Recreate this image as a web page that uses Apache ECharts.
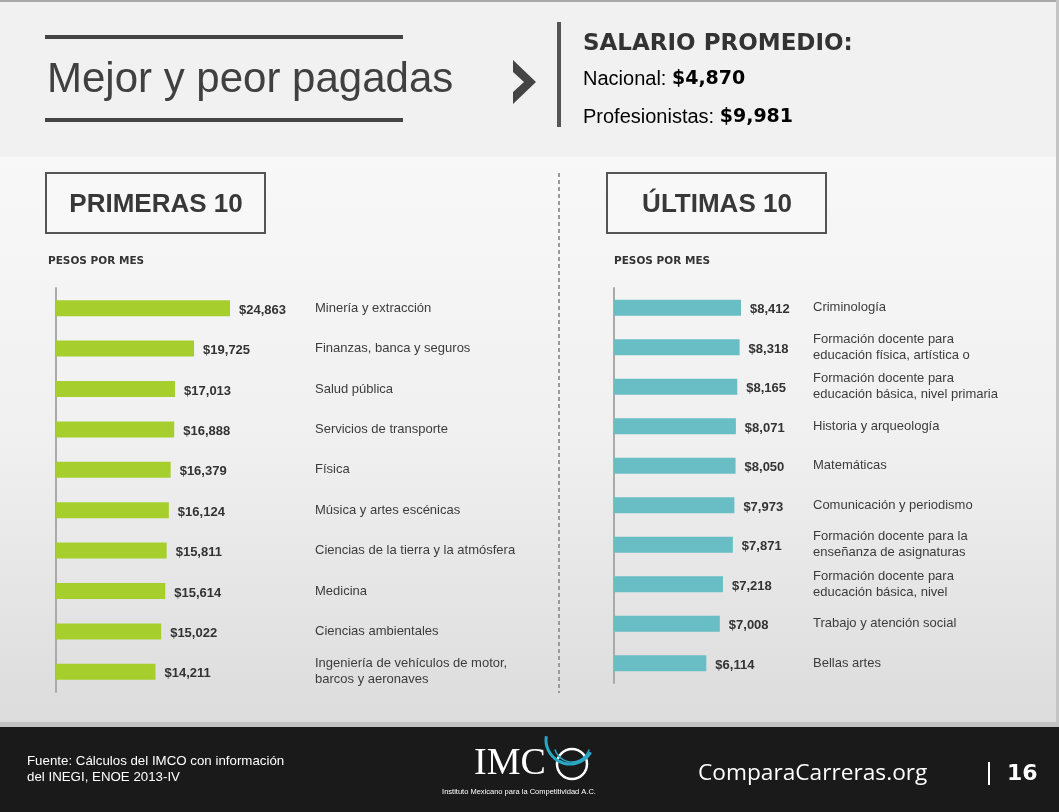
<!DOCTYPE html>
<html>
<head>
<meta charset="utf-8">
<script src="https://cdn.jsdelivr.net/npm/echarts@6/dist/echarts.min.js"></script>
<style>
html,body{margin:0;padding:0;background:#1a1a1a;}
#chart{width:1059px;height:812px;}
</style>
</head>
<body>
<div id="chart"></div>
<script>
const topCategories = [
  'Minería y extracción',
  'Finanzas, banca y seguros',
  'Salud pública',
  'Servicios de transporte',
  'Física',
  'Música y artes escénicas',
  'Ciencias de la tierra y la atmósfera',
  'Medicina',
  'Ciencias ambientales',
  'Ingeniería de vehículos de motor,\nbarcos y aeronaves'
];
const topValues = [24863, 19725, 17013, 16888, 16379, 16124, 15811, 15614, 15022, 14211];

const bottomCategories = [
  'Criminología',
  'Formación docente para\neducación física, artística o',
  'Formación docente para\neducación básica, nivel primaria',
  'Historia y arqueología',
  'Matemáticas',
  'Comunicación y periodismo',
  'Formación docente para la\nenseñanza de asignaturas',
  'Formación docente para\neducación básica, nivel',
  'Trabajo y atención social',
  'Bellas artes'
];
const bottomValues = [8412, 8318, 8165, 8071, 8050, 7973, 7871, 7218, 7008, 6114];

const titleText = 'Mejor y peor pagadas';
const salaryTitle = 'SALARIO PROMEDIO:';
const nationalLabel = 'Nacional: ';
const nationalValue = '$4,870';
const profLabel = 'Profesionistas: ';
const profValue = '$9,981';
const leftHeader = 'PRIMERAS 10';
const rightHeader = 'ÚLTIMAS 10';
const unitText = 'PESOS POR MES';
const sourceText = 'Fuente: Cálculos del IMCO con información\ndel INEGI, ENOE 2013-IV';
const siteText = 'ComparaCarreras.org';
const pageText = '16';

const fmt = v => '$' + v.toLocaleString('en-US');
const sans = 'Liberation Sans, Arial, sans-serif';
const heavy = 'DejaVu Sans, sans-serif';

const chart = echarts.init(document.getElementById('chart'), null, {renderer: 'canvas'});

const axisLabelBase = {
  inside: true,
  color: '#3c3c3c',
  fontSize: 13,
  fontFamily: sans,
  lineHeight: 16,
  align: 'left',
  padding: [4, 0, 0, 0]
};

const option = {
  backgroundColor: '#1a1a1a',
  animation: false,
  grid: [
    {left: 56, top: 288, width: 245, height: 404},
    {left: 614, top: 288, width: 151, height: 395}
  ],
  xAxis: [
    {gridIndex: 0, type: 'value', min: 0, max: 35000, show: false},
    {gridIndex: 1, type: 'value', min: 0, max: 10000, show: false}
  ],
  yAxis: [
    {
      gridIndex: 0, type: 'category', inverse: true, data: topCategories,
      axisLine: {show: true, lineStyle: {color: '#aaaaaa', width: 2}},
      axisTick: {show: false}, splitLine: {show: false},
      axisLabel: Object.assign({}, axisLabelBase, {margin: 259})
    },
    {
      gridIndex: 1, type: 'category', inverse: true, data: bottomCategories,
      axisLine: {show: true, lineStyle: {color: '#aaaaaa', width: 2}},
      axisTick: {show: false}, splitLine: {show: false},
      axisLabel: Object.assign({}, axisLabelBase, {margin: 199})
    }
  ],
  series: [
    {
      type: 'bar', xAxisIndex: 0, yAxisIndex: 0, data: topValues,
      barWidth: 16,
      itemStyle: {color: '#a6cf2e'},
      label: {show: true, position: 'right', distance: 9, offset: [0, 2], formatter: p => fmt(p.value),
        color: '#333333', fontWeight: 'bold', fontSize: 13, fontFamily: sans}
    },
    {
      type: 'bar', xAxisIndex: 1, yAxisIndex: 1, data: bottomValues,
      barWidth: 16,
      itemStyle: {color: '#68bec4'},
      label: {show: true, position: 'right', distance: 9, offset: [0, 2], formatter: p => fmt(p.value),
        color: '#333333', fontWeight: 'bold', fontSize: 13, fontFamily: sans}
    }
  ],
  graphic: {
    elements: [
      // backgrounds
      {type: 'rect', z: -100, shape: {x: 0, y: 0, width: 1059, height: 157}, style: {fill: '#f1f1f1'}},
      {type: 'rect', z: -100, shape: {x: 0, y: 157, width: 1059, height: 565},
        style: {fill: new echarts.graphic.LinearGradient(0, 0, 0, 1, [
          {offset: 0, color: '#f8f8f8'}, {offset: 0.5, color: '#f0f0f0'}, {offset: 1, color: '#dcdcdc'}])}},
      {type: 'rect', z: -100, shape: {x: 0, y: 722, width: 1059, height: 5}, style: {fill: '#c2c2c2'}},
      {type: 'rect', z: -100, shape: {x: 0, y: 727, width: 1059, height: 85}, style: {fill: '#1a1a1a'}},
      {type: 'rect', z: -99, shape: {x: 0, y: 0, width: 1059, height: 2}, style: {fill: '#a9a9a9'}},
      {type: 'rect', z: -99, shape: {x: 1056, y: 0, width: 3, height: 722}, style: {fill: '#c4c4c4'}},

      // title block
      {type: 'rect', shape: {x: 45, y: 35, width: 358, height: 4}, style: {fill: '#444444'}},
      {type: 'rect', shape: {x: 45, y: 118, width: 358, height: 4}, style: {fill: '#444444'}},
      {type: 'text', x: 47, y: 80, style: {text: titleText, fill: '#404040', font: '42px ' + sans, verticalAlign: 'middle'}},
      {type: 'polygon', shape: {points: [[513, 60], [536, 82], [513, 104], [513, 92], [524, 82], [513, 72]]}, style: {fill: '#444444'}},
      {type: 'rect', shape: {x: 557, y: 22, width: 4, height: 105}, style: {fill: '#555555'}},
      {type: 'text', x: 583, y: 44, style: {text: salaryTitle, fill: '#333333', font: 'bold 23px ' + heavy, verticalAlign: 'middle'}},
      {type: 'text', x: 583, y: 79, style: {
        text: '{a|' + nationalLabel + '}{b|' + nationalValue + '}', verticalAlign: 'middle',
        rich: {a: {fontFamily: sans, fontSize: 20, color: '#333333'},
               b: {fontFamily: heavy, fontSize: 19, fontWeight: 'bold', color: '#333333'}}}},
      {type: 'text', x: 583, y: 117, style: {
        text: '{a|' + profLabel + '}{b|' + profValue + '}', verticalAlign: 'middle',
        rich: {a: {fontFamily: sans, fontSize: 20, color: '#333333'},
               b: {fontFamily: heavy, fontSize: 19, fontWeight: 'bold', color: '#333333'}}}},

      // section headers
      {type: 'rect', shape: {x: 46, y: 173, width: 219, height: 60}, style: {fill: '#f8f8f8', stroke: '#555555', lineWidth: 2}},
      {type: 'text', x: 156, y: 205, style: {text: leftHeader, fill: '#383838', font: 'bold 26px ' + sans, align: 'center', verticalAlign: 'middle'}},
      {type: 'rect', shape: {x: 607, y: 173, width: 219, height: 60}, style: {fill: '#f8f8f8', stroke: '#555555', lineWidth: 2}},
      {type: 'text', x: 717, y: 205, style: {text: rightHeader, fill: '#383838', font: 'bold 26px ' + sans, align: 'center', verticalAlign: 'middle'}},
      {type: 'text', x: 48, y: 261, style: {text: unitText, fill: '#333333', font: 'bold 10.5px ' + heavy, verticalAlign: 'middle'}},
      {type: 'text', x: 614, y: 261, style: {text: unitText, fill: '#333333', font: 'bold 10.5px ' + heavy, verticalAlign: 'middle'}},

      // dashed divider
      {type: 'line', shape: {x1: 559, y1: 173, x2: 559, y2: 693}, style: {stroke: '#9a9a9a', lineWidth: 2, lineDash: [4, 3]}},

      // footer
      {type: 'text', x: 27, y: 769, style: {text: sourceText, fill: '#ffffff', font: '13.3px ' + sans, lineHeight: 16, verticalAlign: 'middle'}},
      {type: 'text', x: 474, y: 764, style: {text: 'IMC', fill: '#ffffff', font: '38px Liberation Serif, serif', verticalAlign: 'middle'}},
      {type: 'circle', shape: {cx: 572, cy: 764, r: 15}, style: {fill: 'none', stroke: '#ffffff', lineWidth: 2.5}},
      {type: 'arc', shape: {cx: 570, cy: 740, r: 24, startAngle: Math.PI * 0.17, endAngle: Math.PI * 1.05, clockwise: true}, style: {fill: 'none', stroke: '#2aa7c4', lineWidth: 3}},
      {type: 'arc', shape: {cx: 572, cy: 744, r: 18, startAngle: Math.PI * 0.1, endAngle: Math.PI * 0.9, clockwise: true}, style: {fill: 'none', stroke: '#2aa7c4', lineWidth: 1.5}},
      {type: 'text', x: 519, y: 792, style: {text: 'Instituto Mexicano para la Competitividad A.C.', fill: '#ffffff', font: '7.5px ' + sans, align: 'center', verticalAlign: 'middle'}},
      {type: 'text', x: 698, y: 774, style: {text: siteText, fill: '#ffffff', font: '22.7px Open Sans, sans-serif', verticalAlign: 'middle'}},
      {type: 'rect', shape: {x: 988, y: 762, width: 2, height: 23}, style: {fill: '#ffffff'}},
      {type: 'text', x: 1007, y: 774, style: {text: pageText, fill: '#ffffff', font: 'bold 22px ' + heavy, verticalAlign: 'middle'}}
    ]
  }
};
chart.setOption(option);
</script>
</body>
</html>
